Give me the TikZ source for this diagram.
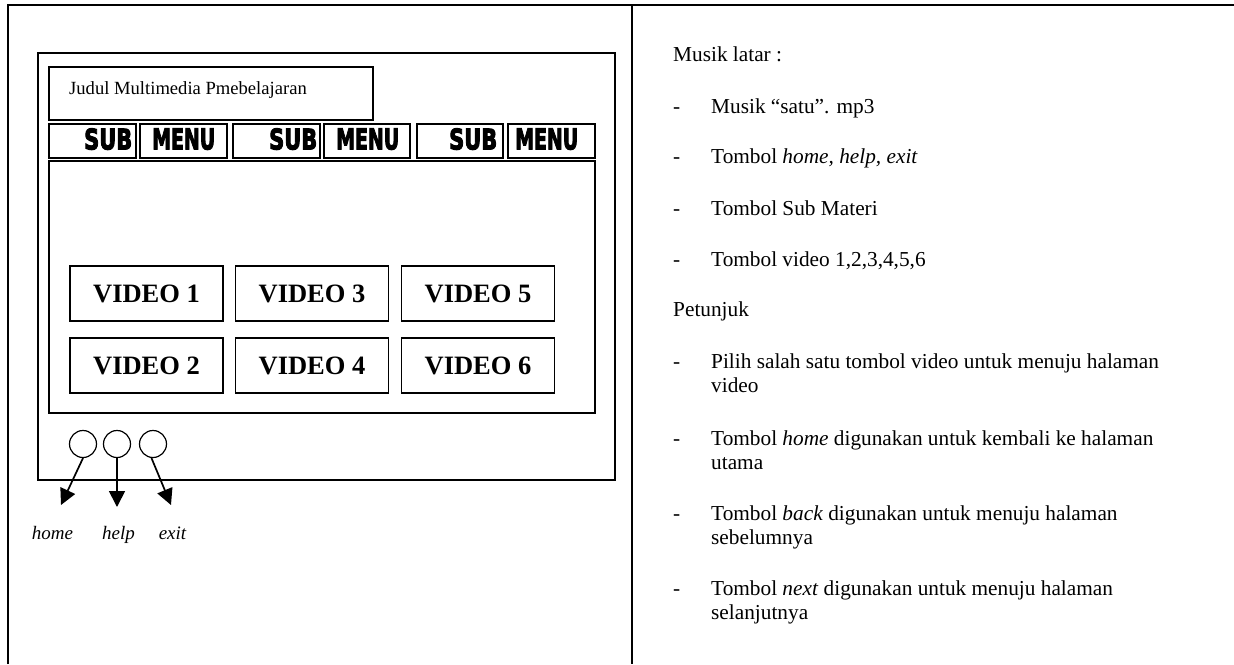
\documentclass[tikz,border=0pt]{standalone}
\usepackage{fontspec}
\usepackage{graphicx}
\setmainfont{Liberation Serif}
\newfontfamily\heavy{DejaVu Sans}[BoldFont={* Bold}, BoldFeatures={FakeBold=4}]
\usetikzlibrary{arrows.meta}

\begin{document}
\begin{tikzpicture}[x=1pt,y=-1pt,
  frameline/.style={line width=1.4pt},
  boxst/.style={draw, line width=1.3pt, rectangle, inner sep=0pt, outer sep=0pt},
  menubox/.style={boxst, line width=1.6pt, minimum height=34pt},
  vidbox/.style={boxst, minimum width=153pt, minimum height=55pt, font=\fontsize{26.5}{30}\selectfont\bfseries},
  btn/.style={draw, circle, line width=1.2pt, minimum size=27pt, inner sep=0pt},
  arr/.style={line width=1.7pt, -{Triangle[length=16pt,width=16pt]}},
  body/.style={inner sep=0pt, anchor=base west, font=\fontsize{21.3}{24}\selectfont},
  lbl/.style={inner sep=0pt, anchor=base, font=\fontsize{19}{22}\selectfont\itshape},
  heavytxt/.style={inner sep=0pt, anchor=south west, font=\fontsize{20}{24}\selectfont}]

\useasboundingbox (0,0) rectangle (1234,664);

% outer frame
\draw[frameline] (8,664) -- (8,5) -- (1234,5);
\draw[frameline] (632,5) -- (632,664);

% window
\node[boxst, minimum width=577pt, minimum height=427pt] (win) at (326.5,266.5) {};
\node[boxst, minimum width=324pt, minimum height=53pt] (title) at (211,93.5) {};
\node[inner sep=0pt, anchor=base west, font=\fontsize{18.6}{22}\selectfont] (titletxt) at (69,94) {Judul Multimedia Pmebelajaran};

% sub menu row
\node[menubox, minimum width=87pt] (sub1) at (92.5,141) {};
\node[menubox, minimum width=87pt] (menu1) at (183.5,141) {};
\node[menubox, minimum width=87pt] (sub2) at (276.5,141) {};
\node[menubox, minimum width=86pt] (menu2) at (367,141) {};
\node[menubox, minimum width=86pt] (sub3) at (460,141) {};
\node[menubox, minimum width=87pt] (menu3) at (551.5,141) {};

\node[heavytxt] (sub1t) at (84,150) {\resizebox{48pt}{21pt}{\heavy\bfseries SUB}};
\node[heavytxt] (menu1t) at (152,150) {\resizebox{63pt}{21pt}{\heavy\bfseries MENU}};
\node[heavytxt] (sub2t) at (269,150) {\resizebox{48pt}{21pt}{\heavy\bfseries SUB}};
\node[heavytxt] (menu2t) at (336,150) {\resizebox{63pt}{21pt}{\heavy\bfseries MENU}};
\node[heavytxt] (sub3t) at (449,150) {\resizebox{48pt}{21pt}{\heavy\bfseries SUB}};
\node[heavytxt] (menu3t) at (515,150) {\resizebox{63pt}{21pt}{\heavy\bfseries MENU}};

% content
\node[boxst, minimum width=546pt, minimum height=252pt] (content) at (322,287) {};

\node[vidbox] (v1) at (146.5,293.5) {VIDEO 1};
\node[vidbox] (v3) at (312,293.5) {VIDEO 3};
\node[vidbox] (v5) at (478,293.5) {VIDEO 5};
\node[vidbox] (v2) at (146.5,365.5) {VIDEO 2};
\node[vidbox] (v4) at (312,365.5) {VIDEO 4};
\node[vidbox] (v6) at (478,365.5) {VIDEO 6};

% buttons
\node[btn] (c1) at (83,444) {};
\node[btn] (c2) at (117,444) {};
\node[btn] (c3) at (153,444) {};
\coordinate (t1) at (61,505);
\coordinate (t2) at (117,507);
\coordinate (t3) at (171,505);
\draw[arr] (c1.south) -- (t1);
\draw[arr] (c2.south) -- (t2);
\draw[arr] ([xshift=-1.5pt]c3.south) -- (t3);

\node[lbl] (lhome) at (52.5,539) {home};
\node[lbl] (lhelp) at (118.5,539) {help};
\node[lbl] (lexit) at (172.5,539) {exit};

% right panel
\node[body] (musik) at (673,61.7) {Musik latar :};
\node[body] (d1) at (673,113.3) {-};
\node[body] (i1) at (711,113.3) {Musik “satu”. mp3};
\node[body] (d2) at (673,163.3) {-};
\node[body] (i2) at (711,163.3) {Tombol \textit{home, help, exit}};
\node[body] (d3) at (673,215) {-};
\node[body] (i3) at (711,215) {Tombol Sub Materi};
\node[body] (d4) at (673,266) {-};
\node[body] (i4) at (711,266) {Tombol video 1,2,3,4,5,6};
\node[body] (pet) at (673,316.7) {Petunjuk};

\node[body] (d5) at (673,368.3) {-};
\node[body] (p1a) at (711,368.3) {Pilih salah satu tombol video untuk menuju halaman};
\node[body] (p1b) at (711,392.7) {video};
\node[body] (d6) at (673,445) {-};
\node[body] (p2a) at (711,445) {Tombol \textit{home} digunakan untuk kembali ke halaman};
\node[body] (p2b) at (711,469.3) {utama};
\node[body] (d7) at (673,520) {-};
\node[body] (p3a) at (711,520) {Tombol \textit{back} digunakan untuk menuju halaman};
\node[body] (p3b) at (711,544.3) {sebelumnya};
\node[body] (d8) at (673,595) {-};
\node[body] (p4a) at (711,595) {Tombol \textit{next} digunakan untuk menuju halaman};
\node[body] (p4b) at (711,619.3) {selanjutnya};
\end{tikzpicture}
\end{document}
